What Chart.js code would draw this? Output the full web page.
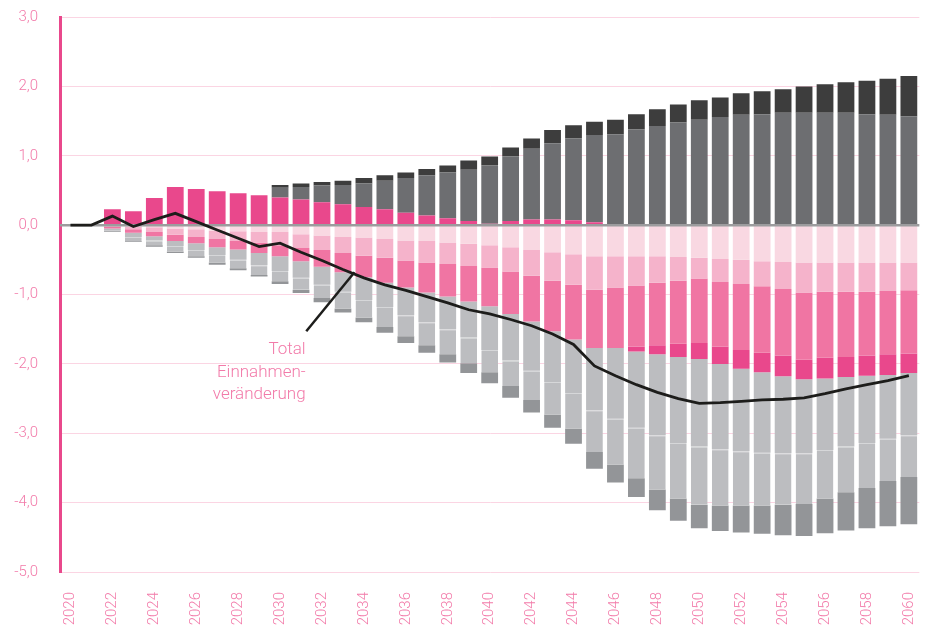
<!DOCTYPE html>
<html>
<head>
<meta charset="utf-8">
<script src="https://cdn.jsdelivr.net/npm/chart.js@4.4.1/dist/chart.umd.min.js"></script>
<style>
  html, body { margin: 0; padding: 0; background: #fff; }
  #wrap { width: 947px; height: 630px; }
</style>
</head>
<body>
<div id="wrap"><canvas id="chart" width="947" height="630"></canvas></div>
<script>
// Einnahmenveränderung 2020-2060 (stacked contributions + total line)

const years = [];
for (let y = 2020; y <= 2060; y++) years.push(String(y));

// positive contributions
const posMagenta = [0,0,0.23,0.20,0.39,0.55,0.52,0.49,0.46,0.43, 0.40,0.37,0.33,0.30,0.26,0.23,0.18,0.14,0.10,0.06,0.02, 0.06,0.08,0.08,0.07,0.04, 0,0,0,0,0, 0,0,0,0,0, 0,0,0,0,0];
const posGray    = [0,0,0,0,0,0,0,0,0,0, 0.14,0.18,0.24,0.28,0.34,0.41,0.50,0.58,0.66,0.74,0.84, 0.93,1.02,1.10,1.18,1.26, 1.31,1.38,1.43,1.48,1.52, 1.56,1.59,1.60,1.62,1.62, 1.62,1.62,1.60,1.59,1.57];
const posDark    = [0,0,0,0,0,0,0,0,0,0, 0.04,0.05,0.05,0.06,0.08,0.08,0.08,0.09,0.10,0.13,0.13, 0.13,0.15,0.19,0.19,0.19, 0.21,0.22,0.24,0.26,0.28, 0.28,0.31,0.33,0.34,0.38, 0.41,0.44,0.48,0.52,0.58];

// negative contributions (from zero downward)
const negLight   = [0,0,-0.01,-0.02,-0.03,-0.05,-0.06,-0.08,-0.09,-0.10, -0.10,-0.13,-0.15,-0.17,-0.18,-0.20,-0.22,-0.23,-0.25,-0.27,-0.29, -0.32,-0.36,-0.39,-0.42,-0.45, -0.45,-0.45,-0.45,-0.46,-0.47, -0.49,-0.50,-0.52,-0.53,-0.54, -0.54,-0.54,-0.54,-0.54,-0.54];
const negMid     = [0,0,-0.01,-0.04,-0.07,-0.09,-0.11,-0.12,-0.14,-0.15, -0.19,-0.20,-0.21,-0.23,-0.26,-0.27,-0.29,-0.31,-0.31,-0.32,-0.32, -0.35,-0.37,-0.41,-0.44,-0.48, -0.45,-0.42,-0.38,-0.34,-0.30, -0.33,-0.35,-0.36,-0.39,-0.43, -0.42,-0.42,-0.42,-0.41,-0.40];
const negPink    = [0,0,-0.03,-0.05,-0.06,-0.09,-0.09,-0.12,-0.12,-0.15, -0.16,-0.19,-0.24,-0.28,-0.31,-0.36,-0.39,-0.43,-0.47,-0.51,-0.56, -0.61,-0.66,-0.73,-0.79,-0.84, -0.87,-0.88,-0.90,-0.91,-0.93, -0.93,-0.95,-0.96,-0.96,-0.97, -0.95,-0.94,-0.92,-0.91,-0.91];
const negMagenta = [0,0,0,0,0,0,0,0,0,0, 0,0,0,0,0,0,0,0,0,0,0, 0,0,0,0,0, 0,-0.07,-0.13,-0.19,-0.23, -0.25,-0.27,-0.28,-0.30,-0.28, -0.30,-0.29,-0.29,-0.30,-0.28];
const negGrayA   = [0,0,-0.03,-0.06,-0.06,-0.07,-0.10,-0.11,-0.15,-0.18, -0.21,-0.24,-0.26,-0.28,-0.33,-0.35,-0.40,-0.43,-0.47,-0.52,-0.63, -0.67,-0.71,-0.73,-0.77,-0.90, -1.02,-1.10,-1.17,-1.24,-1.26, -1.23,-1.19,-1.16,-1.11,-1.07, -1.03,-1.00,-0.97,-0.92,-0.90];
const negGrayB   = [0,0,-0.01,-0.06,-0.07,-0.08,-0.09,-0.11,-0.12,-0.14, -0.15,-0.17,-0.19,-0.24,-0.25,-0.29,-0.30,-0.33,-0.36,-0.37,-0.32, -0.37,-0.42,-0.47,-0.51,-0.60, -0.66,-0.73,-0.78,-0.80,-0.84, -0.81,-0.78,-0.76,-0.74,-0.73, -0.70,-0.66,-0.65,-0.61,-0.60];
const negDark    = [0,0,-0.01,-0.01,-0.02,-0.02,-0.02,-0.03,-0.03,-0.02, -0.04,-0.05,-0.06,-0.06,-0.07,-0.08,-0.10,-0.11,-0.12,-0.14,-0.16, -0.17,-0.18,-0.19,-0.22,-0.24, -0.26,-0.27,-0.30,-0.32,-0.34, -0.37,-0.39,-0.41,-0.44,-0.46, -0.50,-0.55,-0.58,-0.65,-0.68];

// total change (line)
const total = [0,0,0.13,-0.02,0.08,0.17,0.05,-0.07,-0.19,-0.31, -0.26,-0.39,-0.51,-0.64,-0.76,-0.86,-0.94,-1.03,-1.12,-1.22,-1.28, -1.36,-1.45,-1.57,-1.72,-2.03, -2.17,-2.30,-2.41,-2.50,-2.57, -2.56,-2.54,-2.52,-2.51,-2.49, -2.43,-2.36,-2.30,-2.24,-2.17];

const yTicks = [3, 2, 1, 0, -1, -2, -3, -4, -5];
const noteLines = ['Total', 'Einnahmen-', 'veränderung'];

const PINK_TEXT = '#f27aa9';
const FONT = 'Roboto, "Noto Sans", sans-serif';

function bar(label, data, color, extra) {
  return Object.assign({
    type: 'bar', label, data, backgroundColor: color,
    borderWidth: 0, stack: 's', order: 1,
    barPercentage: 0.8, categoryPercentage: 1.0,
  }, extra || {});
}

// zero line drawn just before the total line, so it sits above the bars
const zeroLine = {
  id: 'zeroLine',
  beforeDatasetDraw(chart, args) {
    if (args.meta.type !== 'line') return;
    const { ctx, chartArea, scales } = chart;
    const y0 = scales.y.getPixelForValue(0);
    ctx.save();
    ctx.strokeStyle = '#9c9c9e';
    ctx.lineWidth = 2.5;
    ctx.beginPath();
    ctx.moveTo(chartArea.left, y0);
    ctx.lineTo(chartArea.right, y0);
    ctx.stroke();
    ctx.restore();
  }
};

// label + leader line for the total series
const note = {
  id: 'note',
  afterDatasetsDraw(chart) {
    const { ctx, scales } = chart;
    const x = scales.x, y = scales.y;
    ctx.save();
    ctx.strokeStyle = '#1d1d1b';
    ctx.lineWidth = 2.5;
    ctx.beginPath();
    ctx.moveTo(x.getPixelForValue(11.25), y.getPixelForValue(-1.53));
    ctx.lineTo(x.getPixelForValue(13.55), y.getPixelForValue(-0.68));
    ctx.stroke();
    ctx.fillStyle = PINK_TEXT;
    ctx.font = '300 17px ' + FONT;
    ctx.textAlign = 'right';
    ctx.textBaseline = 'middle';
    const tx = x.getPixelForValue(11.22);
    const rows = [-1.80, -2.13, -2.44];
    noteLines.forEach((t, i) => ctx.fillText(t, tx, y.getPixelForValue(rows[i])));
    ctx.restore();
  }
};

new Chart(document.getElementById('chart'), {
  data: {
    labels: years,
    datasets: [
      { type: 'line', label: 'Total Einnahmenveränderung', data: total, borderColor: '#1d1d1b',
        borderWidth: 2.8, pointRadius: 0, tension: 0, fill: false, stack: 'total', order: 0 },
      bar('pos1', posMagenta, '#e9488c'),
      bar('pos2', posGray, '#6d6e71'),
      bar('pos3', posDark, '#3d3d3d'),
      bar('neg1', negLight, '#f9d8e2'),
      bar('neg2', negMid, '#f5b3cb'),
      bar('neg3', negPink, '#f075a3'),
      bar('neg4', negMagenta, '#e9488c'),
      bar('neg5', negGrayA, '#bcbdc0'),
      bar('neg6', negGrayB, '#bcbdc0', { borderSkipped: false, borderColor: '#d6d7d9',
        borderWidth: { top: 1, right: 0, bottom: 0, left: 0 } }),
      bar('neg7', negDark, '#939598'),
    ]
  },
  options: {
    responsive: false,
    devicePixelRatio: 1,
    animation: false,
    layout: { padding: { top: 17, right: 11, bottom: 0, left: 0 } },
    plugins: { legend: { display: false }, tooltip: { enabled: false } },
    scales: {
      x: {
        stacked: true,
        grid: { display: false, drawTicks: false },
        border: { display: false },
        ticks: {
          autoSkip: false, maxRotation: 90, minRotation: 90, padding: 20,
          color: PINK_TEXT, font: { family: FONT, size: 15, weight: '300' },
          callback: (v, i) => (i % 2 === 0 ? years[i] : '')
        },
        afterFit(scale) { scale.height = 58; }
      },
      y: {
        stacked: true,
        min: -5, max: 3,
        afterBuildTicks(scale) { scale.ticks = yTicks.map(v => ({ value: v })); },
        grid: {
          drawTicks: false,
          color: ctx => ctx.tick && ctx.tick.value === 0 ? 'rgba(0,0,0,0)' : '#fbd5e3',
          lineWidth: 1
        },
        border: { display: true, color: '#e9488c', width: 3 },
        ticks: {
          padding: 22, color: PINK_TEXT,
          font: { family: FONT, size: 15, weight: '300' },
          callback: v => v.toFixed(1).replace('.', ',')
        },
        afterFit(scale) {
          scale.width = 60;
          // tick padding is otherwise added to the vertical overflow
          scale.paddingTop = 9;
          scale.paddingBottom = 9;
        }
      }
    }
  },
  plugins: [zeroLine, note]
});
</script>
</body>
</html>
